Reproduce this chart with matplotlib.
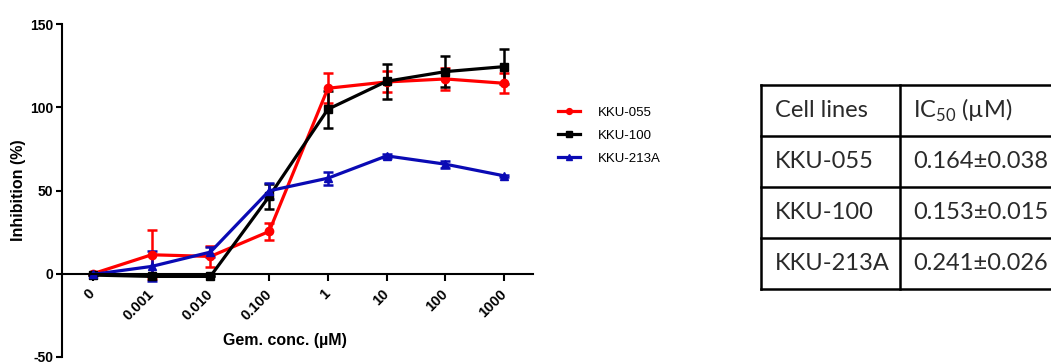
import matplotlib
matplotlib.use("Agg")
import matplotlib.pyplot as plt
from matplotlib.lines import Line2D

plt.rcParams['font.family'] = ['Liberation Sans', 'DejaVu Sans']
plt.rcParams['mathtext.fontset'] = 'custom'
plt.rcParams['mathtext.rm'] = 'Lato'

conc_labels = ['0', '0.001', '0.010', '0.100', '1', '10', '100', '1000']
kku055 = [0, 11.4, 10.4, 25.4, 111.4, 115.2, 117, 114.4]
kku055_err = [0, 14.6, 6.5, 5, 9, 6.3, 6.5, 6]
kku100 = [-0.8, -1.6, -1.6, 46.4, 98.8, 115.6, 121.4, 124.4]
kku100_err = [0, 0, 0, 7.5, 11, 10.6, 9.5, 10.5]
kku213a = [-0.4, 4.4, 13.0, 49.8, 57.4, 70.8, 65.8, 58.8]
kku213a_err = [0, 9, 3.2, 5, 4, 1, 2.2, 0.5]
series_names = ['KKU-055', 'KKU-100', 'KKU-213A']

table_header = ['Cell lines', 'IC$_{50}$ (µM)']
table_cells = ['KKU-055', 'KKU-100', 'KKU-213A']
table_ic50 = ['0.164±0.038', '0.153±0.015', '0.241±0.026']

W, H = 1051, 363
fig = plt.figure(figsize=(W / 100, H / 100), dpi=100)
ax = fig.add_axes([61.7 / W, 6 / H, (533 - 61.7) / W, (357 - 24) / H])
ax.spines['top'].set_visible(False)
ax.spines['right'].set_visible(False)
ax.spines['bottom'].set_position(('data', 0))
ax.spines['bottom'].set_linewidth(1.5)
ax.spines['left'].set_linewidth(1.5)

x = list(range(len(conc_labels)))
styles = [(kku055, kku055_err, '#ff0000', 'o'),
          (kku100, kku100_err, '#000000', 's'),
          (kku213a, kku213a_err, '#0a0ab4', '^')]
handles = []
for (vals, errs, col, mk), name in zip(styles, series_names):
    c = ax.errorbar(x, vals, yerr=errs, color=col, marker=mk, markersize=6,
                    linewidth=2.3, elinewidth=1.8, capsize=3.5, capthick=1.8,
                    label=name)
    handles.append(c[0])

ax.set_xlim(-0.53, 7.49)
ax.set_ylim(-50, 150)
ax.set_xticks(x)
ax.set_xticklabels(conc_labels, rotation=45, ha='right', va='center',
                   rotation_mode='anchor', fontweight='bold', fontsize=10.5)
ax.set_yticks([-50, 0, 50, 100, 150])
ax.set_yticklabels(['-50', '0', '50', '100', '150'], fontweight='bold', fontsize=10)
ax.tick_params(axis='x', direction='out', length=5, width=1.5, pad=8)
ax.tick_params(axis='y', direction='out', length=4, width=1.5, pad=2)
ax.set_ylabel('Inhibition (%)', fontweight='bold', fontsize=11.5)
ax.yaxis.set_label_coords((26 - 61.7) / (533 - 61.7), 0.5)
ax.set_xlabel('Gem. conc. (µM)', fontweight='bold', fontsize=11.5)
ax.xaxis.set_label_coords((284.5 - 61.7) / (533 - 61.7), (357 - 340) / 333)
ax.xaxis.label.set_va('center')

fig.legend(handles, series_names, loc='upper left',
           bbox_to_anchor=(546 / W, 1 - 95 / H), frameon=False,
           fontsize=9.5, handlelength=1.7, handletextpad=1.3,
           labelspacing=0.8, markerscale=0.7)

# IC50 table
xl, xm, xr = 761, 900, 1070
rows_y = [85, 136, 187, 238, 289]
lw = 1.8
for yy in rows_y:
    fig.add_artist(Line2D([xl / W, xr / W], [1 - yy / H, 1 - yy / H],
                          color='black', linewidth=lw))
for xx in (xl, xm):
    fig.add_artist(Line2D([xx / W, xx / W], [1 - rows_y[0] / H, 1 - rows_y[-1] / H],
                          color='black', linewidth=lw))
col1 = [table_header[0]] + table_cells
col2 = [table_header[1]] + table_ic50
for i in range(len(col1)):
    yc = 1 - (rows_y[i] + rows_y[i + 1]) / 2 / H
    fig.text(775 / W, yc, col1[i], family='Lato', fontsize=17,
             color='#2a2a2a', va='center', ha='left')
    fig.text(913 / W, yc, col2[i], family='Lato', fontsize=17,
             color='#2a2a2a', va='center', ha='left')

fig.savefig('out.png', dpi=100)
